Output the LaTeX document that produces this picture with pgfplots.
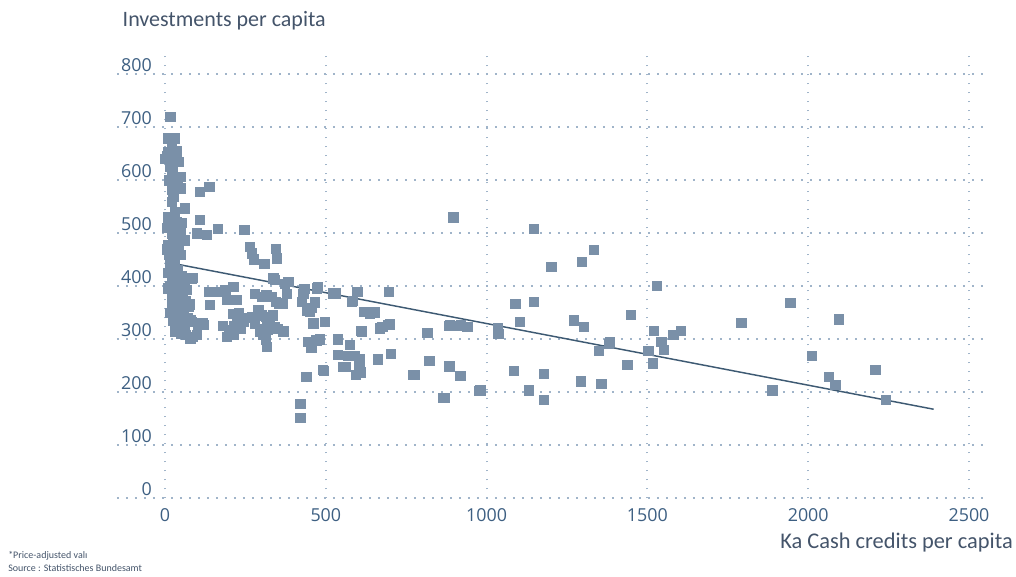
\documentclass[border=0pt]{standalone}
\usepackage{fontspec}
\setmainfont{Carlito}
\newfontfamily\tickfont{Open Sans}
\usepackage{pgfplots}
\pgfplotsset{compat=1.18}

\definecolor{markcol}{HTML}{7A90A8}
\definecolor{linecol}{HTML}{3E5A73}
\definecolor{gridcol}{HTML}{A0B4C9}
\definecolor{tickcol}{HTML}{3D5F82}
\definecolor{textcol}{HTML}{44546A}

\begin{document}
\begin{tikzpicture}
\useasboundingbox (0,0) rectangle (762pt,432pt);
\begin{axis}[
    scale only axis, width=650pt, height=335.9pt,
    at={(87.6pt,58.3pt)}, anchor=south west,
    xmin=-150, xmax=2545, ymin=0, ymax=845,
    xtick={0,500,...,2500}, ytick={0,100,...,800},
    axis line style={draw=none}, tick style={draw=none},
    grid=major,
    major grid style={color=gridcol, line width=1.5pt, dash pattern=on 1.3pt off 5.45pt},
    /pgf/number format/assume math mode=true,
    /pgf/number format/1000 sep={},
    ticklabel style={font=\tickfont\fontsize{13.4}{16}\selectfont, text=tickcol, inner sep=0pt},
    yticklabel style={anchor=south east, xshift=26.4pt, yshift=2pt},
    xticklabel style={anchor=north, yshift=-7.3pt},
    clip=false,
]
\addplot[only marks, mark=square*, mark size=3.5pt, color=markcol, mark options={draw=markcol, fill=markcol}] coordinates {
(16,720)
(10,679)(31,679)(21,667)(10,654)(5,645)(21,635)(42,635)(16,626)(21,610)(47,607)(31,594)(47,585)(21,582)(26,569)(21,560)
(62,547)(31,541)(21,531)(36,522)(16,512)(47,503)(21,500)(62,487)(26,487)(10,478)(42,475)(47,459)(16,456)(31,450)
(16,437)(21,418)(36,405)(10,396)(47,393)(67,393)(21,380)(42,377)(31,365)(47,352)(36,342)(72,361)(83,414)
(5,470)(35,465)(20,445)(40,430)(10,425)(30,410)(50,420)(15,400)(25,390)(55,380)(20,370)(40,360)(15,350)(25,335)(45,325)(30,315)(50,310)
(0,640)(35,655)(25,620)(12,600)(38,600)(8,530)(30,510)(50,520)(5,510)(45,490)(12,460)
(60,400)(65,372)(58,350)(70,340)(55,335)(62,325)
(109,578)(138,588)(107,525)(98,500)(130,497)(163,509)(85,416)(75,366)(78,337)(101,328)(116,330)(64,309)(85,305)
(57,393)(69,365)(83,333)(104,327)(119,327)(62,314)(78,302)(98,308)
(135,390)(161,390)(187,393)(212,399)(140,365)(192,374)(221,375)
(180,325)(210,348)(230,350)(243,333)(215,325)(200,318)(192,305)(212,308)(250,340)(235,320)(225,335)
(270,343)(290,355)(300,345)(315,343)(325,337)(340,323)(350,320)(368,315)(280,330)(300,320)(320,318)(335,345)
(280,386)(300,380)(315,383)(330,380)(345,371)(355,368)(365,368)(378,386)(373,405)(342,412)(337,415)(383,409)
(295,315)(305,309)(320,320)(316,332)(314,299)(316,286)
(246,507)(264,475)(270,462)(275,451)(309,442)(345,471)(347,453)
(425,371)(430,386)(440,355)(455,360)(466,370)(472,396)(450,352)(461,330)(497,333)(445,295)(455,285)(470,298)(482,300)(433,395)(475,398)
(421,178)(421,152)(439,229)(493,241)
(537,300)(574,290)(537,271)(570,269)(591,269)(604,262)(560,248)(594,233)(608,238)(604,252)(610,316)(662,262)(701,273)(675,324)(699,328)
(529,387)(598,390)(695,389)(584,373)(633,352)(653,351)(523,387)(580,371)(611,314)(668,321)(694,327)(554,248)(490,242)(617,352)(637,349)
(771,233)(813,312)(820,259)(884,326)(917,326)(939,324)(884,249)(918,231)(865,190)(977,203)(896,530)
(1147,509)(1334,469)(1201,437)(1295,446)(1530,401)(1089,367)(1147,371)(1944,369)(1792,331)(2094,338)
(816,312)(885,327)(920,327)(942,323)(1034,321)(1036,311)(1103,333)(1272,336)(1303,323)(1449,346)
(1519,316)(1580,309)(1603,316)(1543,295)(1551,280)(1503,278)(1517,255)(1380,292)(1383,295)(1349,278)(1437,252)
(775,233)(823,259)(885,248)(917,231)(868,190)(980,204)(1085,240)(1177,235)(1130,204)(1177,186)(1292,221)(1356,216)
(1888,204)(2011,269)(2063,229)(2084,214)(2208,242)(2241,186)
};
\addplot[color=linecol, line width=1.1pt] coordinates {(0,446) (2390,168)};
\end{axis}
\node[anchor=base west, font=\fontsize{16.5}{19}\selectfont, text=textcol] at (88.5pt,411.75pt) {Investments per capita};
\node[anchor=base east, font=\fontsize{16.8}{19}\selectfont, text=textcol, inner sep=0pt] at (759.75pt,21pt) {Ka Cash credits per capita};
\node[anchor=base west, font=\fontsize{7.5}{9}\selectfont, text=textcol, inner sep=0pt] at (6pt,13.5pt) {*Price-adjusted valı};
\node[anchor=base west, font=\fontsize{7.5}{9}\selectfont, text=textcol, inner sep=0pt] at (6pt,3.75pt) {Source : Statistisches Bundesamt};
\end{tikzpicture}
\end{document}
